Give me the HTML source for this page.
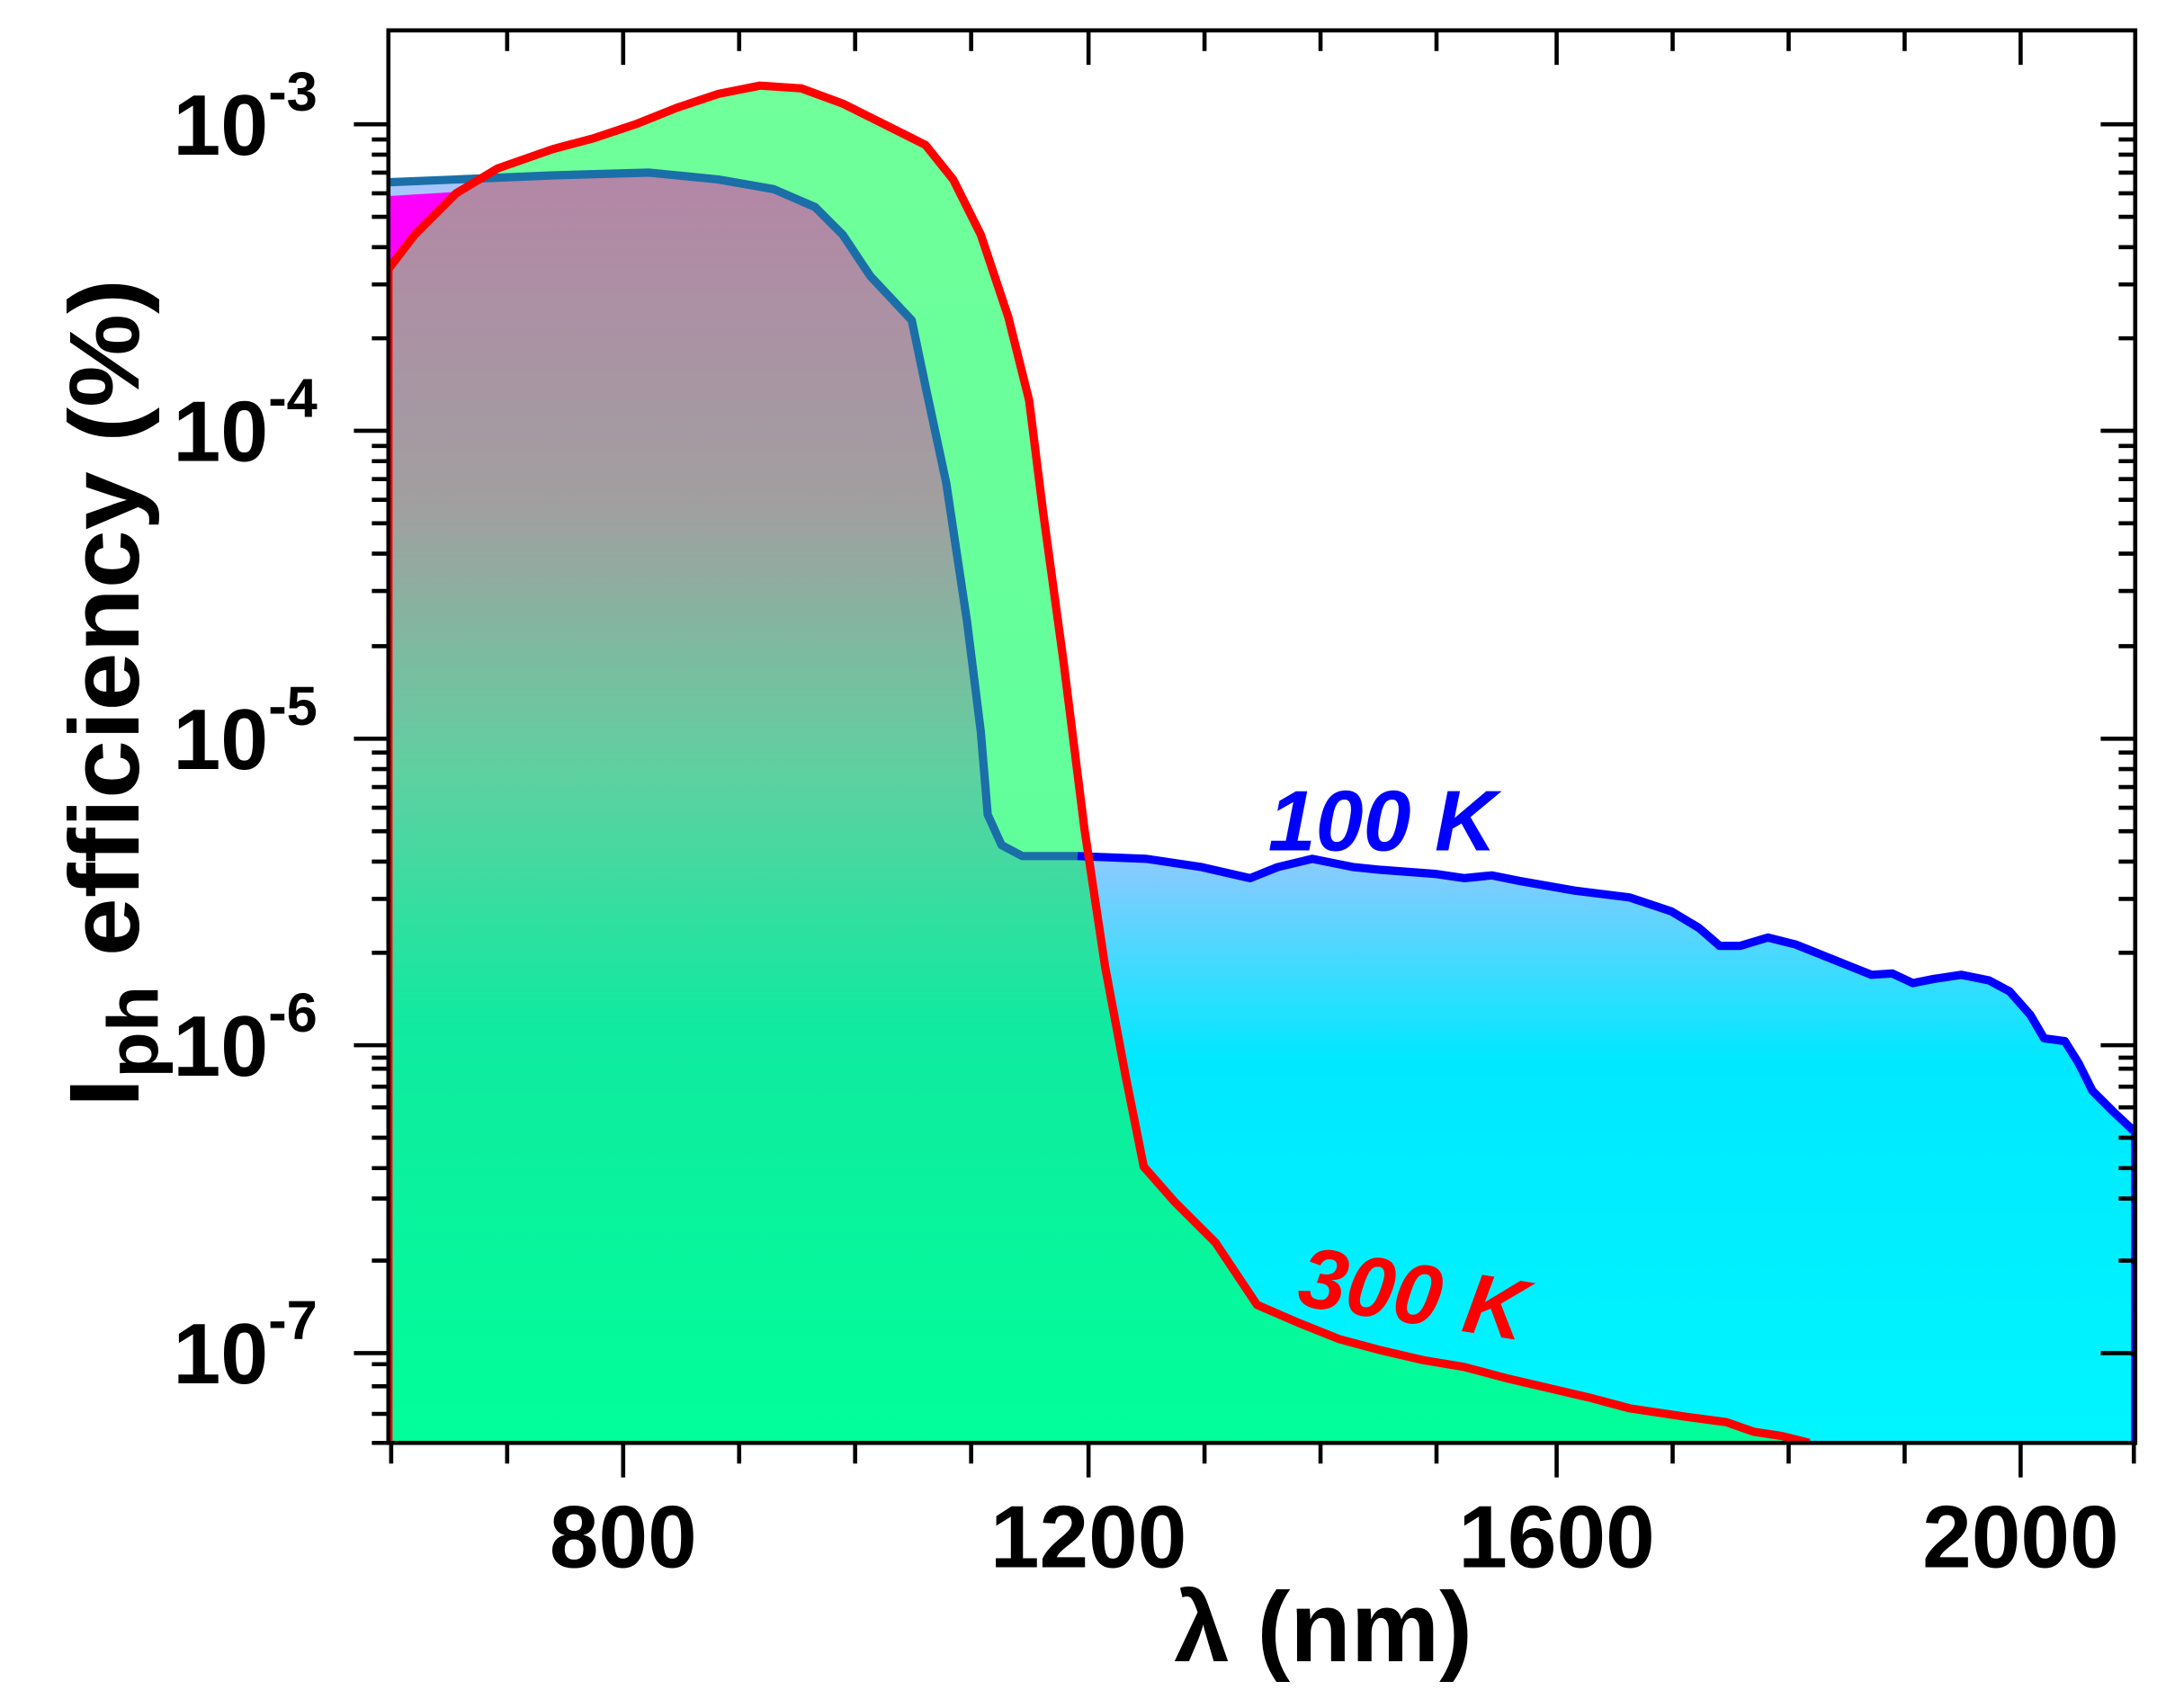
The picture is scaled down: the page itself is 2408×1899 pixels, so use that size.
<!DOCTYPE html>
<html><head><meta charset="utf-8"><style>html,body{margin:0;padding:0;background:#fff}svg{display:block}</style></head>
<body>
<svg width="2408" height="1899" viewBox="0 0 1568 1237" xmlns="http://www.w3.org/2000/svg" font-family="Liberation Sans, Arial, sans-serif">
<defs>
<linearGradient id="gBlue" x1="0" y1="0" x2="0" y2="1237" gradientUnits="userSpaceOnUse">
<stop offset="0.48" stop-color="#a8c4ff"/><stop offset="0.62" stop-color="#00e8ff"/><stop offset="1" stop-color="#00ffff"/></linearGradient>
<linearGradient id="gRed" x1="0" y1="0" x2="0" y2="1237" gradientUnits="userSpaceOnUse">
<stop offset="0.05" stop-color="#70ff9a"/><stop offset="0.5" stop-color="#60ff9c"/><stop offset="0.8" stop-color="#00ff99"/></linearGradient>
<linearGradient id="gOv" x1="0" y1="0" x2="0" y2="1237" gradientUnits="userSpaceOnUse">
<stop offset="0.1" stop-color="#b486a6"/><stop offset="0.3" stop-color="#a0a0a0"/><stop offset="0.45" stop-color="#60d0a0"/><stop offset="0.6" stop-color="#10eaa0"/><stop offset="0.85" stop-color="#00ff99"/></linearGradient>
<clipPath id="redClip"><path d="M281,1045 L281,195 L300,170 L330,140 L360,122 L400,108 L430,100 L460,90 L490,78 L520,68 L550,62 L580,64 L610,75 L640,90 L670,105 L690,130 L710,170 L730,230 L745,290 L755,370 L770,480 L785,600 L800,700 L815,780 L828,845 L850,870 L880,900 L910,945 L940,958 L970,970 L1000,978 L1030,985 L1060,990 L1090,998 L1120,1005 L1150,1012 L1180,1020 L1220,1026 L1250,1030 L1270,1037 L1290,1040 L1310,1045 Z"/></clipPath>
<clipPath id="plot"><rect x="281" y="22" width="1265" height="1023"/></clipPath>
</defs>
<rect width="1568" height="1237" fill="#fff"/>
<g clip-path="url(#plot)" stroke-linejoin="round">
<path d="M281,1045 L281,132 L330,130 L400,127 L470,125 L520,130 L560,137 L590,150 L610,170 L630,200 L660,232 L670,280 L685,350 L700,450 L710,530 L715,590 L725,612 L740,620 L780,620 L830,622 L870,628 L905,636 L925,628 L950,622 L980,628 L1000,630 L1040,633 L1060,636 L1080,634 L1100,638 L1140,645 L1180,650 L1210,660 L1230,672 L1245,685 L1260,685 L1280,679 L1300,684 L1320,692 L1340,700 L1355,706 L1370,705 L1385,712 L1400,709 L1420,706 L1440,710 L1455,718 L1470,735 L1480,752 L1495,754 L1505,770 L1515,790 L1530,805 L1546,820 L1546,1045 Z" fill="url(#gBlue)"/>
<path d="M281,142 L330,139 L300,170 L281,195 Z" fill="#ff00ff"/>
<path d="M281,1045 L281,195 L300,170 L330,140 L360,122 L400,108 L430,100 L460,90 L490,78 L520,68 L550,62 L580,64 L610,75 L640,90 L670,105 L690,130 L710,170 L730,230 L745,290 L755,370 L770,480 L785,600 L800,700 L815,780 L828,845 L850,870 L880,900 L910,945 L940,958 L970,970 L1000,978 L1030,985 L1060,990 L1090,998 L1120,1005 L1150,1012 L1180,1020 L1220,1026 L1250,1030 L1270,1037 L1290,1040 L1310,1045 Z" fill="url(#gRed)"/>
<path d="M281,1045 L281,132 L330,130 L400,127 L470,125 L520,130 L560,137 L590,150 L610,170 L630,200 L660,232 L670,280 L685,350 L700,450 L710,530 L715,590 L725,612 L740,620 L780,620 L830,622 L870,628 L1546,628 L1546,1045 Z" fill="url(#gOv)" clip-path="url(#redClip)"/>
<path d="M281,132 L330,130 L400,127 L470,125 L520,130 L560,137 L590,150 L610,170 L630,200 L660,232 L670,280 L685,350 L700,450 L710,530 L715,590 L725,612 L740,620 L780,620" fill="none" stroke="#1a6fa8" stroke-width="6"/>
<path d="M780,620 L830,622 L870,628 L905,636 L925,628 L950,622 L980,628 L1000,630 L1040,633 L1060,636 L1080,634 L1100,638 L1140,645 L1180,650 L1210,660 L1230,672 L1245,685 L1260,685 L1280,679 L1300,684 L1320,692 L1340,700 L1355,706 L1370,705 L1385,712 L1400,709 L1420,706 L1440,710 L1455,718 L1470,735 L1480,752 L1495,754 L1505,770 L1515,790 L1530,805 L1546,820" fill="none" stroke="#0000ff" stroke-width="6"/>
<path d="M281,1045 L281,195 L300,170 L330,140 L360,122 L400,108 L430,100 L460,90 L490,78 L520,68 L550,62 L580,64 L610,75 L640,90 L670,105 L690,130 L710,170 L730,230 L745,290 L755,370 L770,480 L785,600 L800,700 L815,780 L828,845 L850,870 L880,900 L910,945 L940,958 L970,970 L1000,978 L1030,985 L1060,990 L1090,998 L1120,1005 L1150,1012 L1180,1020 L1220,1026 L1250,1030 L1270,1037 L1290,1040 L1310,1045" fill="none" stroke="#ff0000" stroke-width="6"/>
<line x1="1545" y1="820" x2="1545" y2="1045" stroke="#0000ff" stroke-width="4"/>
</g>
<rect x="281" y="22" width="1265" height="1023" fill="none" stroke="#000" stroke-width="3"/>
<g stroke="#000" stroke-width="3">
<path d="M283,1045v15 M367,1045v15 M451,1045v25 M535,1045v15 M619,1045v15 M703,1045v15 M788,1045v25 M872,1045v15 M956,1045v15 M1040,1045v15 M1127,1045v25 M1211,1045v15 M1295,1045v15 M1379,1045v15 M1463,1045v25 M1545,1045v15"/>
<path d="M367,22v15 M451,22v25 M535,22v15 M619,22v15 M703,22v15 M788,22v25 M872,22v15 M956,22v15 M1040,22v15 M1127,22v25 M1211,22v15 M1295,22v15 M1379,22v15 M1463,22v25"/>
<path d="M281,90h-25 M281,312h-25 M281,535h-25 M281,757h-25 M281,980h-25 M1546,90h-25 M1546,312h-25 M1546,535h-25 M1546,757h-25 M1546,980h-25"/>
<path d="M281,1045h-12 M281,1024h-12 M281,1004h-12 M281,988h-12 M281,913h-12 M281,868h-12 M281,846h-12 M281,824h-12 M281,802h-12 M281,787h-12 M281,774h-12 M281,766h-12 M281,690h-12 M281,651h-12 M281,624h-12 M281,602h-12 M281,585h-12 M281,570h-12 M281,557h-12 M281,545h-12 M281,468h-12 M281,428h-12 M281,401h-12 M281,379h-12 M281,362h-12 M281,347h-12 M281,334h-12 M281,323h-12 M281,245h-12 M281,206h-12 M281,179h-12 M281,157h-12 M281,140h-12 M281,125h-12 M281,112h-12 M281,101h-12"/>
<path d="M1546,913h-12 M1546,868h-12 M1546,846h-12 M1546,824h-12 M1546,802h-12 M1546,787h-12 M1546,774h-12 M1546,766h-12 M1546,690h-12 M1546,651h-12 M1546,624h-12 M1546,602h-12 M1546,585h-12 M1546,570h-12 M1546,557h-12 M1546,545h-12 M1546,468h-12 M1546,428h-12 M1546,401h-12 M1546,379h-12 M1546,362h-12 M1546,347h-12 M1546,334h-12 M1546,323h-12 M1546,245h-12 M1546,206h-12 M1546,179h-12 M1546,157h-12 M1546,140h-12 M1546,125h-12 M1546,112h-12 M1546,101h-12"/>
</g>
<g font-weight="bold" font-size="64" fill="#000">
<text x="451" y="1135" text-anchor="middle">800</text>
<text x="788" y="1135" text-anchor="middle">1200</text>
<text x="1127" y="1135" text-anchor="middle">1600</text>
<text x="1463" y="1135" text-anchor="middle">2000</text>
<g text-anchor="end" font-size="62">
<text x="194" y="112">10</text><text x="194" y="334">10</text><text x="194" y="557">10</text><text x="194" y="779">10</text><text x="194" y="1002">10</text>
</g>
<g font-size="40">
<text x="194" y="80">-3</text><text x="194" y="302">-4</text><text x="194" y="525">-5</text><text x="194" y="747">-6</text><text x="194" y="970">-7</text>
</g>
<text x="958" y="1203" text-anchor="middle" font-size="72">λ (nm)</text>
<text transform="translate(100,802) rotate(-90)" font-size="72" textLength="600" lengthAdjust="spacingAndGlyphs">I<tspan font-size="52" dy="14">ph</tspan><tspan dy="-14"> efficiency (%)</tspan></text>
</g>
<text x="918" y="616" font-weight="bold" font-style="italic" font-size="62" fill="#0000ff">100 K</text>
<text transform="translate(938,945) rotate(9)" font-weight="bold" font-style="italic" font-size="62" fill="#ff0000">300 K</text>
</svg>
</body></html>
